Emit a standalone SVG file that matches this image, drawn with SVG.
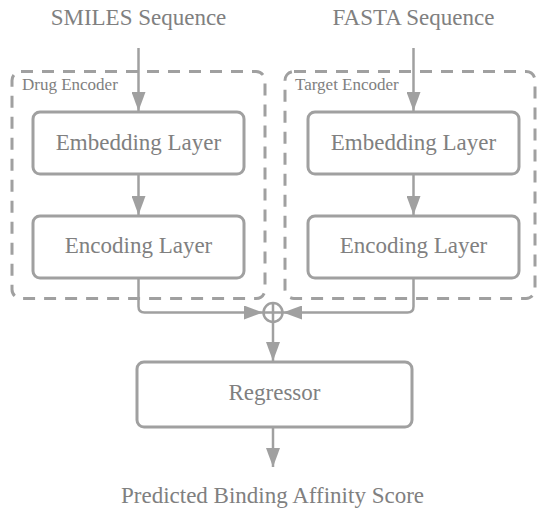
<svg xmlns="http://www.w3.org/2000/svg" width="538" height="509" viewBox="0 0 538 509">
<defs>
<style>
.grp{fill:none;stroke:#a0a0a0;stroke-width:3;stroke-dasharray:12 9}
.box{fill:#fff;stroke:#a0a0a0;stroke-width:3}
.ln{fill:none;stroke:#a0a0a0;stroke-width:2.5}
.t{font-family:"Liberation Serif","Times New Roman",serif;font-size:23px;fill:#808080;text-anchor:middle}
.s{font-family:"Liberation Serif","Times New Roman",serif;font-size:17px;fill:#808080}
</style>
<marker id="ah" viewBox="0 0 19 14" refX="19" refY="7" markerWidth="19" markerHeight="14" markerUnits="userSpaceOnUse" orient="auto">
<path d="M0,0 L19,7 L0,14 Z" fill="#a0a0a0"/>
</marker>
</defs>
<rect width="538" height="509" fill="#ffffff"/>
<g id="drug-encoder">
<rect class="grp" x="12" y="71.5" width="253" height="227" rx="9"/>
<text class="s" x="22" y="90">Drug Encoder</text>
</g>
<g id="target-encoder">
<rect class="grp" x="285" y="71.5" width="250" height="227" rx="9"/>
<text class="s" x="295" y="90">Target Encoder</text>
</g>
<g id="smiles"><text class="t" x="138.5" y="25">SMILES Sequence</text></g>
<g id="fasta"><text class="t" x="413.5" y="25">FASTA Sequence</text></g>
<g id="drug-embedding">
<rect class="box" x="33" y="112" width="211" height="62" rx="7"/>
<text class="t" x="138.5" y="150">Embedding Layer</text>
</g>
<g id="drug-encoding">
<rect class="box" x="33" y="216" width="211" height="62" rx="7"/>
<text class="t" x="138.5" y="253">Encoding Layer</text>
</g>
<g id="target-embedding">
<rect class="box" x="308" y="112" width="211" height="62" rx="7"/>
<text class="t" x="413.5" y="150">Embedding Layer</text>
</g>
<g id="target-encoding">
<rect class="box" x="308" y="216" width="211" height="62" rx="7"/>
<text class="t" x="413.5" y="253">Encoding Layer</text>
</g>
<g id="sum">
<circle cx="273" cy="312.5" r="9.5" fill="#fff" stroke="#a0a0a0" stroke-width="2.5"/>
<path d="M263.5,312.5 H282.5 M273,303 V322" fill="none" stroke="#a0a0a0" stroke-width="2.5"/>
</g>
<g id="regressor">
<rect class="box" x="137" y="362" width="275" height="65" rx="7"/>
<text class="t" x="274.5" y="400">Regressor</text>
</g>
<g id="output"><text class="t" x="272.5" y="503">Predicted Binding Affinity Score</text></g>
<g id="connectors">
<path class="ln" d="M138.5,48 V111" marker-end="url(#ah)"/>
<path class="ln" d="M413.5,48 V111" marker-end="url(#ah)"/>
<path class="ln" d="M138.5,175 V215" marker-end="url(#ah)"/>
<path class="ln" d="M413.5,175 V215" marker-end="url(#ah)"/>
<path class="ln" d="M138.5,279 V306.5 Q138.5,312.5 144.5,312.5 H263" marker-end="url(#ah)"/>
<path class="ln" d="M413.5,279 V306.5 Q413.5,312.5 407.5,312.5 H283" marker-end="url(#ah)"/>
<path class="ln" d="M273,322 V361" marker-end="url(#ah)"/>
<path class="ln" d="M273,428 V467" marker-end="url(#ah)"/>
</g>
</svg>
